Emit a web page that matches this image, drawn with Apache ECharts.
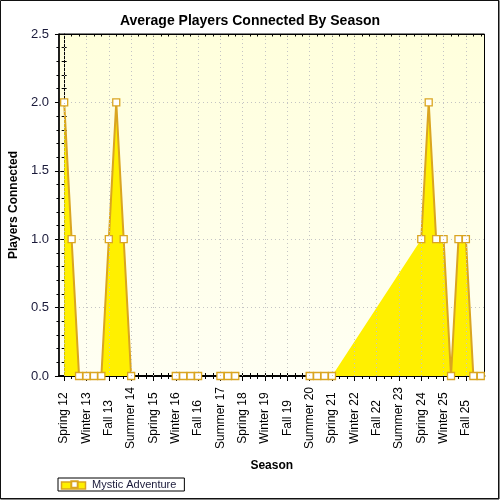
<!DOCTYPE html>
<html>
<head>
<meta charset="utf-8">
<script src="https://cdn.jsdelivr.net/npm/echarts@6/dist/echarts.min.js"></script>
<style>
html,body{margin:0;padding:0;background:#fff;}
#chart{width:500px;height:500px;}
</style>
</head>
<body>
<div id="chart"></div>
<script>
// All seasons along the x axis, in order
const allSeasons = [
  'Spring 12','Summer 12','Fall 12','Winter 13','Spring 13','Summer 13','Fall 13','Winter 14',
  'Spring 14','Summer 14','Fall 14','Winter 15','Spring 15','Summer 15','Fall 15','Winter 16',
  'Spring 16','Summer 16','Fall 16','Winter 17','Spring 17','Summer 17','Fall 17','Winter 18',
  'Spring 18','Summer 18','Fall 18','Winter 19','Spring 19','Summer 19','Fall 19','Winter 20',
  'Spring 20','Summer 20','Fall 20','Winter 21','Spring 21','Summer 21','Fall 21','Winter 22',
  'Spring 22','Summer 22','Fall 22','Winter 23','Spring 23','Summer 23','Fall 23','Winter 24',
  'Spring 24','Summer 24','Fall 24','Winter 25','Spring 25','Summer 25','Fall 25','Winter 26',
  'Spring 26'
];
// Tick labels shown on the x axis
const tickLabels = [
  'Spring 12','Winter 13','Fall 13','Summer 14','Spring 15','Winter 16','Fall 16','Summer 17',
  'Spring 18','Winter 19','Fall 19','Summer 20','Spring 21','Winter 22','Fall 22','Summer 23',
  'Spring 24','Winter 25','Fall 25'
];
// Series: Mystic Adventure (seasons with a recorded value)
const pointSeasons = [
  'Spring 12','Summer 12','Fall 12','Winter 13','Spring 13','Summer 13','Fall 13','Winter 14',
  'Spring 14','Summer 14','Winter 16','Spring 16','Summer 16','Fall 16','Summer 17','Fall 17',
  'Winter 18','Summer 20','Fall 20','Winter 21','Spring 21','Spring 24','Summer 24','Fall 24',
  'Winter 25','Spring 25','Summer 25','Fall 25','Winter 26','Spring 26'
];
const playersConnected = [
  2, 1, 0, 0, 0, 0, 1, 2,
  1, 0, 0, 0, 0, 0, 0, 0,
  0, 0, 0, 0, 0, 1, 2, 1,
  1, 0, 1, 1, 0, 0
];
const yTickValues = [0, 0.5, 1.0, 1.5, 2.0, 2.5];

// Area: all recorded points joined
const areaData = pointSeasons.map((s, i) => [allSeasons.indexOf(s), playersConnected[i]]);
// Outline: only between consecutive recorded seasons
const lineData = allSeasons.map((s, i) => {
  const k = pointSeasons.indexOf(s);
  return [i, k >= 0 ? playersConnected[k] : null];
});
const majorIdx = tickLabels.map(l => allSeasons.indexOf(l));
const allIdx = allSeasons.map((s, i) => i);

const XMIN = -0.7, XMAX = 56.5;
const FONT = 'Liberation Sans';
const AX = '#000';
const GOLD = '#DAA520';
const FILL = '#FFF000';
const GRIDC = '#C4C4C4';

const chart = echarts.init(document.getElementById('chart'), null, {renderer: 'canvas'});
const baseX = {
  type: 'value', min: XMIN, max: XMAX, gridIndex: 0,
  axisLine: {show: true, onZero: false, lineStyle: {color: AX, width: 1.5}},
  splitLine: {show: false}, axisLabel: {show: false}, axisTick: {show: false}
};
const option = {
  backgroundColor: '#fff',
  animation: false,
  title: {
    text: 'Average Players Connected By Season',
    left: 'center', top: 9,
    textStyle: {fontFamily: FONT, fontSize: 14, fontWeight: 'bold', color: '#000'}
  },
  grid: {
    left: 57, right: 15.5, top: 34, bottom: 124, containLabel: false,
    show: true, borderColor: AX, borderWidth: 1,
    backgroundColor: {
      type: 'linear', x: 0, y: 0, x2: 0, y2: 1,
      colorStops: [{offset: 0, color: '#FFFFDC'}, {offset: 1, color: '#FFFFF3'}]
    }
  },
  legend: {
    show: true, left: 58, top: 478,
    orient: 'horizontal',
    backgroundColor: 'rgba(0,0,0,0)', borderColor: '#000', borderWidth: 1,
    padding: [1, 8, 1, 3],
    itemWidth: 25, itemHeight: 8, itemGap: 5,
    textStyle: {fontFamily: FONT, fontSize: 11, color: '#1a1a3a'},
    data: [{name: 'Mystic Adventure', lineStyle: {opacity: 0}}]
  },
  xAxis: [
    Object.assign({}, baseX, {
      position: 'bottom',
      name: 'Season', nameLocation: 'middle', nameGap: 84,
      nameTextStyle: {fontFamily: FONT, fontSize: 12, fontWeight: 'bold', color: '#000'},
      axisTick: {show: true, customValues: majorIdx, length: 5, inside: false, lineStyle: {color: AX}},
      axisLabel: {
        show: true, customValues: majorIdx, rotate: 90, margin: 42,
        align: 'center', verticalAlign: 'middle',
        fontFamily: FONT, fontSize: 12, color: '#000',
        formatter: v => allSeasons[Math.round(v)]
      }
    }),
    Object.assign({}, baseX, {
      position: 'bottom',
      axisTick: {show: true, customValues: allIdx, length: 3, inside: true, lineStyle: {color: AX}}
    }),
    Object.assign({}, baseX, {
      position: 'bottom',
      axisTick: {show: true, customValues: allIdx, length: 3, inside: false, lineStyle: {color: AX}}
    }),
    Object.assign({}, baseX, {
      position: 'top',
      axisLine: {show: true, onZero: false, lineStyle: {color: AX, width: 1}},
      axisTick: {show: true, customValues: allIdx, length: 2.5, inside: true, lineStyle: {color: AX}}
    })
  ],
  yAxis: [
    {
      type: 'value', min: 0, max: 2.5, interval: 0.5, position: 'left',
      name: 'Players Connected', nameLocation: 'middle', nameGap: 34, nameRotate: 90,
      nameTextStyle: {fontFamily: FONT, fontSize: 12, fontWeight: 'bold', color: '#000'},
      axisLine: {show: true, onZero: false, lineStyle: {color: AX, width: 1.5}},
      axisTick: {show: true, length: 4, inside: false, lineStyle: {color: AX}},
      minorTick: {show: true, splitNumber: 5, length: 2.5, lineStyle: {color: AX}},
      axisLabel: {
        show: true, margin: 10, fontFamily: FONT, fontSize: 13, color: '#1a1a3a',
        customValues: yTickValues,
        formatter: v => v.toFixed(1)
      },
      splitLine: {show: true, lineStyle: {color: GRIDC, type: [1, 3], width: 1}}
    },
    {
      type: 'value', min: 0, max: 2.5, interval: 0.5, position: 'left',
      axisLine: {show: false},
      axisTick: {show: true, length: 2.5, inside: true, lineStyle: {color: AX}},
      minorTick: {show: true, splitNumber: 5, length: 2.5, lineStyle: {color: AX}},
      axisLabel: {show: false}, splitLine: {show: false}
    },
    {
      type: 'value', min: 0, max: 2.5, interval: 0.5, position: 'right',
      axisLine: {show: true, lineStyle: {color: AX, width: 1}},
      axisTick: {show: true, length: 4, inside: true, lineStyle: {color: AX}},
      minorTick: {show: true, splitNumber: 5, length: 2.5, lineStyle: {color: AX}},
      axisLabel: {show: false}, splitLine: {show: false}
    }
  ],
  series: [
    {
      name: 'gridlines', type: 'line', data: [], z: 1, silent: true,
      markLine: {
        silent: true, symbol: ['none', 'none'], animation: false,
        label: {show: false},
        lineStyle: {color: GRIDC, type: [1, 3], width: 1},
        emphasis: {disabled: true},
        data: majorIdx.map(v => ({xAxis: v}))
      }
    },
    {
      name: 'Mystic Adventure area',
      type: 'line', xAxisIndex: 0, yAxisIndex: 0,
      data: areaData,
      showSymbol: false, symbol: 'none',
      lineStyle: {width: 0, opacity: 0},
      areaStyle: {color: FILL, opacity: 1},
      silent: true, z: 2
    },
    {
      name: 'Mystic Adventure',
      type: 'line', xAxisIndex: 0, yAxisIndex: 0,
      data: lineData,
      connectNulls: false,
      showAllSymbol: true,
      symbol: 'rect', symbolSize: 7,
      itemStyle: {color: '#fff', borderColor: GOLD, borderWidth: 1.3},
      lineStyle: {color: GOLD, width: 2},
      z: 3
    }
  ],
  graphic: [
    {
      type: 'rect', z: 100, silent: true,
      shape: {x: 0.5, y: 0.5, width: 498.5, height: 498.5},
      style: {fill: 'none', stroke: '#111', lineWidth: 1}
    },
    {
      type: 'polyline', z: 100, silent: true,
      shape: {points: [[498.5, 0], [498.5, 498.5], [0, 498.5]]},
      style: {fill: 'none', stroke: '#111', lineWidth: 1}
    },
    {
      type: 'rect', z: -1, zlevel: 0, silent: true,
      shape: {x: 58.5, y: 478.5, width: 122, height: 15},
      style: {fill: '#fff', stroke: 'none'}
    },
    {
      type: 'rect', z: -1, silent: true,
      shape: {x: 61.5, y: 482, width: 24, height: 7},
      style: {fill: FILL, stroke: GOLD, lineWidth: 1.5}
    }
  ]
};
chart.setOption(option);
</script>
</body>
</html>
